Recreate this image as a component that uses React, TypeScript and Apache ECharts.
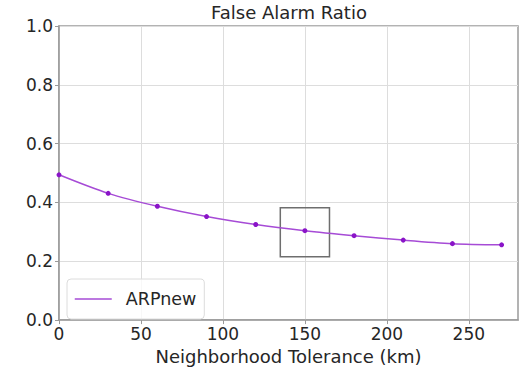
import React, { useEffect, useRef } from "react";
import * as echarts from "echarts";

const tolerance = [0, 30, 60, 90, 120, 150, 180, 210, 240, 270];
const farValues = [0.494, 0.431, 0.387, 0.352, 0.325, 0.304, 0.287, 0.272, 0.260, 0.256];
const xTicks = [0, 50, 100, 150, 200, 250];
const boxX = [135, 165];
const boxY = [0.215, 0.382];
const seriesName = "ARPnew";
const titleText = "False Alarm Ratio";
const xName = "Neighborhood Tolerance (km)";

export default function App() {
  const ref = useRef<HTMLDivElement>(null);
  useEffect(() => {
    if (!ref.current) return;
    const chart = echarts.init(ref.current, null, { renderer: "svg" });
    const font = "DejaVu Sans";
    const txt = "#262626";
    chart.setOption({
      animation: false,
      textStyle: { fontFamily: font },
      title: {
        text: titleText,
        left: 289,
        textAlign: "center",
        top: 3,
        padding: 0,
        textStyle: { fontSize: 18, fontWeight: "normal", color: txt, fontFamily: font },
      },
      grid: {
        left: 59,
        top: 26,
        right: 3,
        bottom: 47,
        show: true,
        borderColor: "#9a9a9a",
        borderWidth: 1.5,
        backgroundColor: "transparent",
      },
      legend: {
        left: 67,
        top: 279,
        orient: "horizontal",
        data: [seriesName],
        itemWidth: 37,
        itemHeight: 14,
        padding: [11, 8, 11, 7],
        borderColor: "#dcdcdc",
        borderWidth: 1,
        borderRadius: 4,
        backgroundColor: "rgba(255,255,255,0.8)",
        itemStyle: { opacity: 0 },
        lineStyle: { width: 1.5 },
        textStyle: { fontSize: 17.5, color: txt, fontFamily: font, padding: [0, 0, 0, 9] },
      },
      xAxis: {
        type: "value",
        min: 0,
        max: 280,
        name: xName,
        nameLocation: "middle",
        nameGap: 22,
        nameTextStyle: { fontSize: 18, color: txt, fontFamily: font },
        axisLine: { show: true, lineStyle: { color: "#9a9a9a", width: 1.5 } },
        axisTick: { show: true, length: 4, customValues: xTicks, lineStyle: { color: "#9a9a9a" } },
        axisLabel: { customValues: xTicks, fontSize: 17, color: txt, margin: 5, fontFamily: font },
        splitLine: { show: true, lineStyle: { color: "#dddddd", width: 1 } },
      },
      yAxis: {
        type: "value",
        min: 0,
        max: 1,
        interval: 0.2,
        axisLine: { show: true, lineStyle: { color: "#9a9a9a", width: 1.5 } },
        axisTick: { show: true, length: 4, lineStyle: { color: "#9a9a9a" } },
        axisLabel: {
          fontSize: 17,
          color: txt,
          margin: 6,
          fontFamily: font,
          formatter: (v: number) => v.toFixed(1),
        },
        splitLine: { show: true, lineStyle: { color: "#dddddd", width: 1 } },
      },
      series: [
        {
          name: seriesName,
          type: "line",
          data: tolerance.map((x, i) => [x, farValues[i]]),
          smooth: 0.3,
          symbol: "circle",
          symbolSize: 5,
          lineStyle: { color: "#a64bd6", width: 1.5 },
          itemStyle: { color: "#8a14c8" },
          markArea: {
            silent: true,
            itemStyle: { color: "rgba(0,0,0,0)", borderColor: "#6e6e6e", borderWidth: 1.5 },
            data: [[{ coord: [boxX[0], boxY[0]] }, { coord: [boxX[1], boxY[1]] }]],
          },
        },
      ],
    });
    return () => chart.dispose();
  }, []);
  return <div ref={ref} style={{ width: 521, height: 370, position: "absolute", left: 0, top: 0 }} />;
}
